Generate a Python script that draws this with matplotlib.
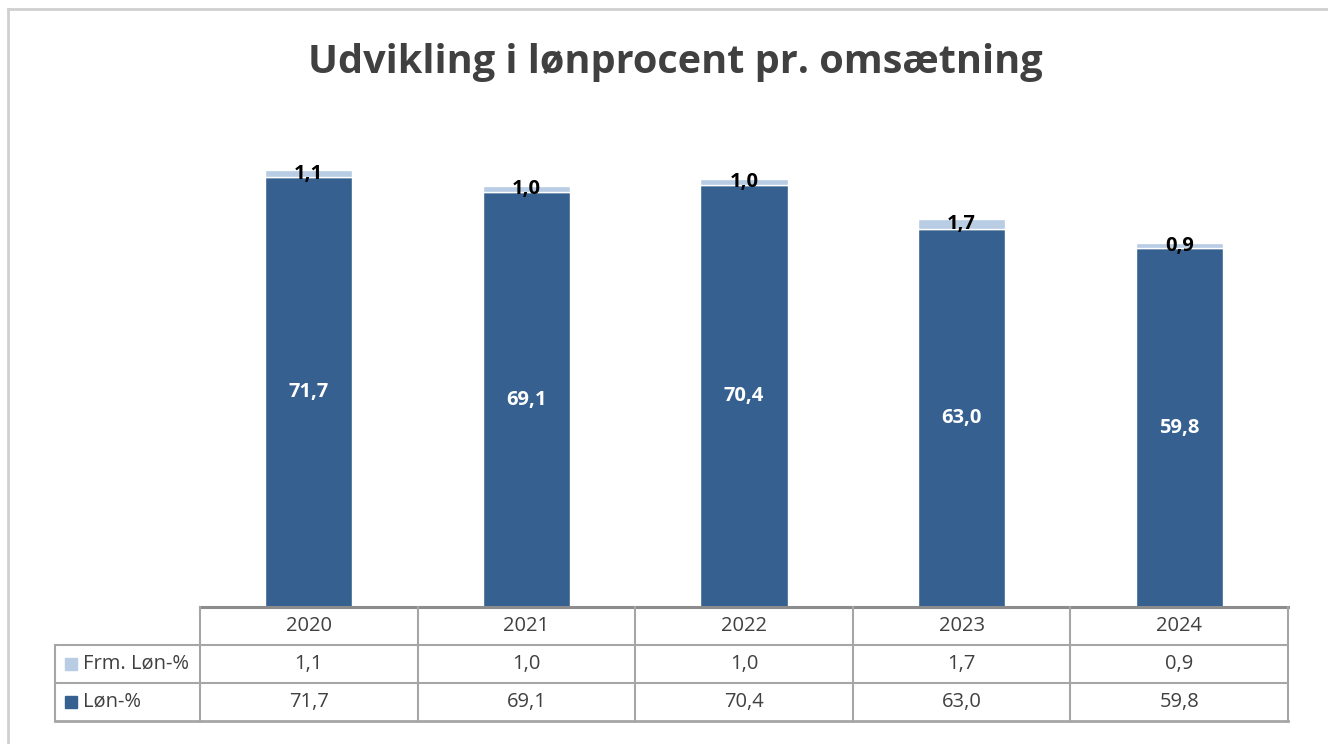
import matplotlib.pyplot as plt
from matplotlib.patches import Rectangle

years = ['2020', '2021', '2022', '2023', '2024']
lon = [71.7, 69.1, 70.4, 63.0, 59.8]
frm_lon = [1.1, 1.0, 1.0, 1.7, 0.9]
series_names = ['Frm. Løn-%', 'Løn-%']

dark = '#35608f'
light = '#b8cce4'
grid_col = '#a6a6a6'
txt_col = '#404040'

plt.rcParams['font.family'] = ['Open Sans', 'DejaVu Sans']

W, H = 1328, 744
fig = plt.figure(figsize=(W / 100, H / 100), dpi=100)

def fx(px):
    return px / W

def fy(py):
    return 1 - py / H

# outer frame
fig.add_artist(plt.Line2D([fx(8), fx(8)], [fy(9), 0], color='#d0d0d0', lw=2))
fig.add_artist(plt.Line2D([fx(8), 1], [fy(9), fy(9)], color='#d0d0d0', lw=2))

fig.text(fx(675), fy(62), 'Udvikling i lønprocent pr. omsætning', ha='center', va='center',
         fontsize=28.5, fontweight='bold', color=txt_col)

# bars
ax = fig.add_axes([fx(200), fy(607), fx(1288) - fx(200), fy(127) - fy(607)])
x = list(range(len(years)))
ax.bar(x, lon, width=0.4, color=dark, edgecolor='white', linewidth=1)
ax.bar(x, frm_lon, width=0.4, bottom=lon, color=light, edgecolor='white', linewidth=1)
for i in x:
    ax.text(i, lon[i] / 2, f'{lon[i]:.1f}'.replace('.', ','), ha='center', va='center',
            color='white', fontsize=14.5, fontweight='bold')
    ax.text(i, lon[i] + frm_lon[i] / 2, f'{frm_lon[i]:.1f}'.replace('.', ','), ha='center',
            va='center', color='black', fontsize=14.5, fontweight='bold')
ax.set_xlim(-0.5, len(years) - 0.5)
ax.set_ylim(0, 80)
ax.axis('off')

# data table
lab_w = (200 - 55) / ((1288 - 200) / len(years))
tx = fig.add_axes([fx(55), fy(721), fx(1288) - fx(55), fy(607) - fy(721)])
tx.set_xlim(-0.5 - lab_w, len(years) - 0.5)
tx.set_ylim(0, 3)
tx.axis('off')
x0 = -0.5 - lab_w
x1 = len(years) - 0.5
tx.plot([-0.5, x1], [3, 3], color='#8c8c8c', lw=2.2, clip_on=False)
tx.plot([x0, x1], [2, 2], color=grid_col, lw=1.5)
tx.plot([x0, x1], [1, 1], color=grid_col, lw=1.5)
tx.plot([x0, x1], [0, 0], color=grid_col, lw=2, clip_on=False)
tx.plot([x0, x0], [0, 2], color=grid_col, lw=1.5, clip_on=False)
for k in range(len(years) + 1):
    tx.plot([k - 0.5, k - 0.5], [0, 3], color=grid_col, lw=1.5, clip_on=False)
rows = [frm_lon, lon]
cols = [light, dark]
for i, yr in enumerate(years):
    tx.text(i, 2.5, yr, ha='center', va='center', fontsize=14.5, color=txt_col)
    for r in range(2):
        tx.text(i, 1.5 - r, f'{rows[r][i]:.1f}'.replace('.', ','), ha='center', va='center',
                fontsize=14.5, color=txt_col)
for r in range(2):
    tx.add_patch(Rectangle((x0 + 0.045, 1.5 - r - 0.16), 0.055, 0.32, color=cols[r],
                           transform=tx.transData))
    tx.text(x0 + 0.13, 1.5 - r, series_names[r], ha='left', va='center', fontsize=14.5,
            color=txt_col)

fig.savefig('out.png', dpi=100)
